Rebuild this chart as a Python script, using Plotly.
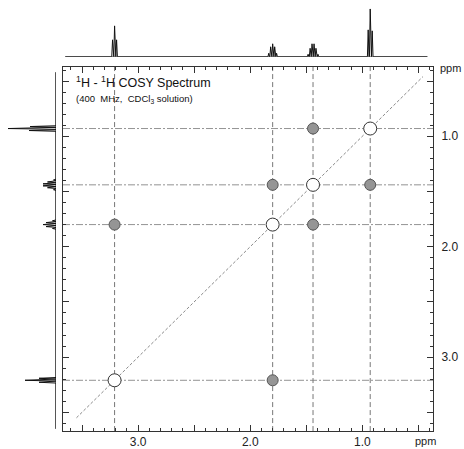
import plotly.graph_objects as go

# Chemical shifts (ppm) of the four proton environments
shifts = [3.21, 1.80, 1.44, 0.93]

# Couplings observed in the 2D map (pairs of shifts, both halves of the map)
cross_x = [1.44, 1.80, 0.93, 3.21, 1.44, 1.80]
cross_y = [0.93, 1.44, 1.44, 1.80, 1.80, 3.21]

# 1D projection: line positions (ppm) and relative intensities per multiplet
line_pos = [
    3.228, 3.210, 3.192,                             # triplet
    1.835, 1.818, 1.800, 1.782, 1.765,               # quintet
    1.484, 1.466, 1.449, 1.431, 1.414, 1.396,        # sextet
    0.948, 0.930, 0.912,                             # triplet
]
line_int = [
    0.34, 0.62, 0.34,
    0.07, 0.20, 0.26, 0.20, 0.07,
    0.05, 0.17, 0.26, 0.26, 0.17, 0.05,
    0.54, 0.96, 0.52,
]

axis_range = [3.67, 0.37]        # ppm, high field on the right / bottom
spec_span = [3.65, 0.42]         # extent of the 1D baselines
diag_span = [3.55, 0.46]         # extent of the diagonal guide

label_vals = [1.0, 2.0, 3.0]
label_text = ["1.0", "2.0", "3.0"]

W, H = 464, 449
FONT = "Liberation Sans, Arial, sans-serif"

# main map domain in paper fractions
x_dom = [63 / W, 433 / W]
y_dom = [(H - 433) / H, (H - 67) / H]


def stick_path(pos, inten, half_width=0.007):
    """Build a projection trace: baseline with a narrow spike for each line."""
    pairs = sorted(zip(pos, inten), key=lambda p: -p[0])
    xs = [spec_span[0]]
    ys = [0.0]
    for p, h in pairs:
        xs += [p + half_width, p, p - half_width]
        ys += [0.0, h, 0.0]
    xs.append(spec_span[1])
    ys.append(0.0)
    return xs, ys


fig = go.Figure()

# ---- 2D map ----
# diagonal guide
fig.add_trace(go.Scatter(
    x=diag_span, y=diag_span, mode="lines",
    line=dict(color="#8a8a8a", width=1, dash="3px,2px"),
    hoverinfo="skip", showlegend=False, xaxis="x", yaxis="y"))

# dashed guides through each shift
for s in shifts:
    fig.add_shape(type="line", xref="x", yref="y domain", x0=s, x1=s, y0=0, y1=1,
                  line=dict(color="#777777", width=1, dash="5px,3px"), layer="below")
    fig.add_shape(type="line", xref="x domain", yref="y", x0=0, x1=1, y0=s, y1=s,
                  line=dict(color="#939393", width=1, dash="7px,2px,2px,2px"), layer="below")

# cross peaks
fig.add_trace(go.Scatter(
    x=cross_x, y=cross_y, mode="markers",
    marker=dict(symbol="circle", size=11, color="#959595",
                line=dict(color="#555555", width=1)),
    hoverinfo="skip", showlegend=False, xaxis="x", yaxis="y"))

# diagonal peaks
fig.add_trace(go.Scatter(
    x=shifts, y=shifts, mode="markers",
    marker=dict(symbol="circle", size=13, color="white",
                line=dict(color="#333333", width=1)),
    hoverinfo="skip", showlegend=False, xaxis="x", yaxis="y"))

# ---- 1D projections ----
sx, sy = stick_path(line_pos, line_int)
base_x = spec_span
base_y = [0, 0]

# top projection
fig.add_trace(go.Scatter(x=base_x, y=base_y, mode="lines",
                         line=dict(color="#7a7a7a", width=1.5),
                         hoverinfo="skip", showlegend=False, xaxis="x2", yaxis="y2"))
fig.add_trace(go.Scatter(x=sx, y=sy, mode="lines",
                         line=dict(color="#111111", width=1),
                         hoverinfo="skip", showlegend=False, xaxis="x2", yaxis="y2"))

# left projection (rotated)
fig.add_trace(go.Scatter(x=base_y, y=base_x, mode="lines",
                         line=dict(color="#7a7a7a", width=1.5),
                         hoverinfo="skip", showlegend=False, xaxis="x3", yaxis="y3"))
fig.add_trace(go.Scatter(x=sy, y=sx, mode="lines",
                         line=dict(color="#111111", width=1),
                         hoverinfo="skip", showlegend=False, xaxis="x3", yaxis="y3"))

tick_font = dict(family=FONT, size=12, color="#222222")

# labelled axes with minor ticks every 0.1 ppm
main_axis = dict(
    range=axis_range, tickmode="array", tickvals=label_vals, ticktext=label_text,
    ticks="inside", ticklen=6, tickwidth=1, tickcolor="#333333",
    minor=dict(dtick=0.1, tick0=0, ticks="inside", ticklen=3, tickcolor="#333333"),
    showline=True, linecolor="#333333", linewidth=1, mirror="ticks",
    showgrid=False, zeroline=False, tickfont=tick_font, fixedrange=True,
)

# unlabelled overlay axes carrying the longer half-ppm ticks
half_axis = dict(
    range=axis_range, tickmode="linear", tick0=0, dtick=0.5,
    ticks="inside", ticklen=6, tickwidth=1, tickcolor="#333333",
    showticklabels=False, showline=False, mirror="ticks",
    showgrid=False, zeroline=False, fixedrange=True,
)

fig.update_layout(
    width=W, height=H, margin=dict(l=0, r=0, t=0, b=0),
    paper_bgcolor="white", plot_bgcolor="white",
    xaxis=dict(main_axis, domain=x_dom, anchor="y", side="bottom"),
    yaxis=dict(main_axis, domain=y_dom, anchor="x", side="right", ticklabelstandoff=5),
    xaxis4=dict(half_axis, domain=x_dom, anchor="y", overlaying="x", side="bottom"),
    yaxis4=dict(half_axis, domain=y_dom, anchor="x", overlaying="y", side="right"),
    xaxis2=dict(domain=x_dom, range=axis_range, anchor="y2", visible=False),
    yaxis2=dict(domain=[(H - 57) / H, (H - 7) / H], range=[0, 1], anchor="x2", visible=False),
    xaxis3=dict(domain=[6 / W, 56 / W], range=[1, 0], anchor="y3", visible=False),
    yaxis3=dict(domain=y_dom, range=axis_range, anchor="x3", visible=False),
    annotations=[
        dict(text="<sup>1</sup>H - <sup>1</sup>H COSY Spectrum", xref="paper", yref="paper",
             x=74 / W, y=(H - 82) / H, xanchor="left", yanchor="middle", showarrow=False,
             font=dict(family=FONT, size=12.5, color="#111111")),
        dict(text="(400\u00a0\u00a0MHz,\u00a0\u00a0CDCl<sub>3</sub> solution)", xref="paper", yref="paper",
             x=74 / W, y=(H - 99) / H, xanchor="left", yanchor="middle", showarrow=False,
             font=dict(family=FONT, size=9.5, color="#111111")),
        dict(text="ppm", xref="paper", yref="paper", x=438 / W, y=(H - 68) / H,
             xanchor="left", yanchor="middle", showarrow=False,
             font=dict(family=FONT, size=11, color="#222222")),
        dict(text="ppm", xref="paper", yref="paper", x=425 / W, y=(H - 443) / H,
             xanchor="center", yanchor="middle", showarrow=False,
             font=dict(family=FONT, size=11, color="#222222")),
    ],
)

# the overlay axes need a (hidden) trace so their ticks are drawn
fig.add_trace(go.Scatter(x=[], y=[], xaxis="x4", yaxis="y4", showlegend=False, hoverinfo="skip"))

fig.write_html("out.html")
